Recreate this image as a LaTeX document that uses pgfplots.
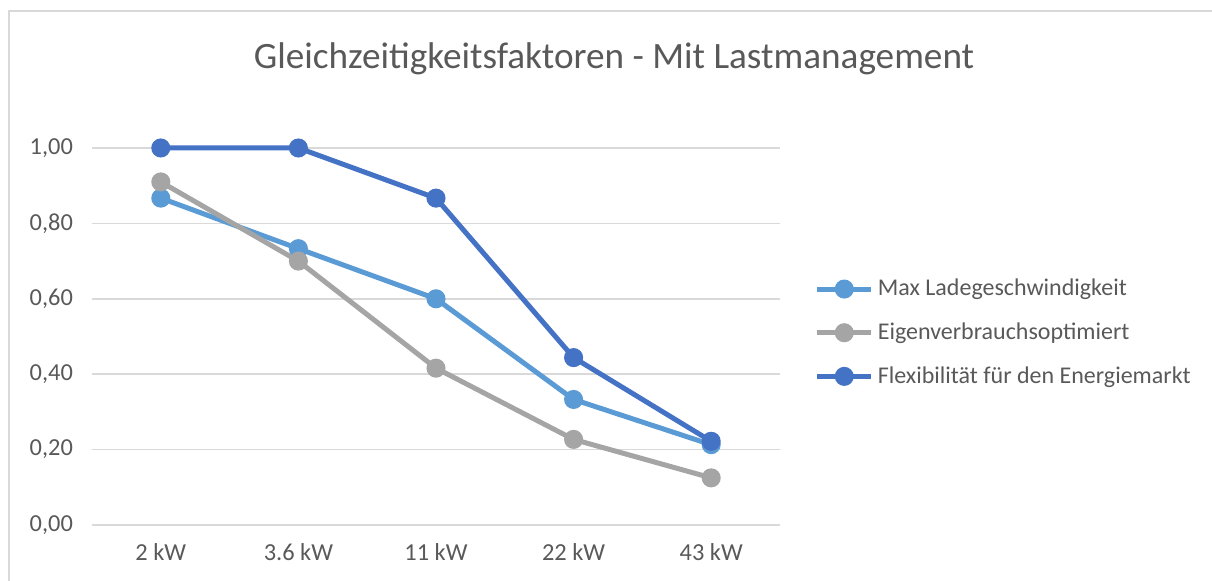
\documentclass[border=0pt]{standalone}
\usepackage{pgfplots}
\pgfplotsset{compat=1.18}
\usepackage{fontspec}
\setmainfont{Carlito}
\definecolor{lblue}{HTML}{5B9BD5}
\definecolor{dblue}{HTML}{4472C4}
\definecolor{lgray}{HTML}{A5A5A5}
\definecolor{txt}{HTML}{595959}
\definecolor{gridc}{HTML}{D9D9D9}
\begin{document}
\begin{tikzpicture}
\path[use as bounding box] (0,0) rectangle (606pt,290.5pt);
\draw[gridc, line width=0.6pt] (4.5pt,-10pt) -- (4.5pt,285pt) -- (620pt,285pt);
\node[txt, font=\fontsize{18.6}{21}\selectfont] at (307pt,261pt) {Gleichzeitigkeitsfaktoren - Mit Lastmanagement};
\begin{axis}[
  at={(46pt,28pt)}, anchor=south west,
  scale only axis, width=344pt, height=188.5pt,
  xmin=-0.5, xmax=4.5, ymin=0, ymax=1,
  xtick={0,1,2,3,4},
  xticklabels={2 kW,3.6 kW,11 kW,22 kW,43 kW},
  ytick={0,0.2,0.4,0.6,0.8,1},
  yticklabel style={xshift=-6pt, /pgf/number format/.cd, fixed, fixed zerofill, precision=2, use comma, assume math mode=true},
  xticklabel style={yshift=-6pt},
  tick label style={txt, font=\fontsize{12.2}{14}\selectfont},
  major tick length=0pt,
  axis line style={draw=none},
  ymajorgrids, grid style={gridc, line width=0.75pt},
  every axis plot/.append style={line width=2.5pt, mark=*, mark size=3.5pt},
  legend style={at={(axis description cs:1.05,0.51)}, anchor=west, draw=none, fill=none,
    font=\fontsize{12}{14}\selectfont, text=txt, row sep=8pt, inner sep=0pt},
  legend cell align=left,
  legend image code/.code={\draw[mark repeat=2,mark phase=2,#1] plot coordinates {(0pt,0pt) (13.5pt,0pt) (27pt,0pt)};},
  clip=false,
]
\addplot[color=lblue] coordinates {(0,0.867) (1,0.733) (2,0.600) (3,0.333) (4,0.213)};
\addlegendentry{Max Ladegeschwindigkeit}
\addplot[color=lgray] coordinates {(0,0.910) (1,0.700) (2,0.416) (3,0.227) (4,0.125)};
\addlegendentry{Eigenverbrauchsoptimiert}
\addplot[color=dblue] coordinates {(0,1.000) (1,1.000) (2,0.867) (3,0.444) (4,0.222)};
\addlegendentry{Flexibilität für den Energiemarkt}
\end{axis}
\end{tikzpicture}
\end{document}
